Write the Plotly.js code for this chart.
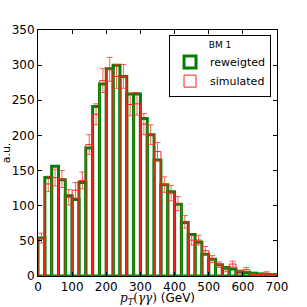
<!DOCTYPE html>
<html>
<head>
<meta charset="utf-8">
<script src="https://cdn.plot.ly/plotly-3.0.1.min.js"></script>
<style>html,body{margin:0;padding:0;background:#fff;}#chart{width:307px;height:307px;}</style>
</head>
<body>
<div id="chart"></div>
<script>
// bin centers (GeV), bin width 20
var binCenters = [10,30,50,70,90,110,130,150,170,190,210,230,250,270,290,310,330,350,370,390,410,430,450,470,490,510,530,550,570,590,610,630,650,670,690];
var reweighted = [54,140,156,137,114,109,133,182,241,273,295,300,284,259,259,224,201,165,130,120,102,76,59,48,31,24,16,12,10,6,5,4,3,2,2];
var simulated  = [54,131,140,138,112,122,136,187,230,278,294,284,284,244,245,216,201,177,130,118,103,77,51,51,36,24,16,9,17,6,9,2,2,4,1];
var simErr     = [7,11,12,12,11,11,12,14,15,17,17,17,17,16,16,15,14,13,11,11,10,9,7,7,6,5,4,3,4,2.5,3,1.5,1.5,2,1];
var binWidth = 20;

var widths = binCenters.map(function(){return binWidth;});

var traces = [
  {
    type: 'bar', name: 'reweigted', x: binCenters, y: reweighted, width: widths,
    marker: {color: 'rgba(255,255,255,0)', line: {color: '#008000', width: 3}},
    showlegend: true
  },
  {
    type: 'bar', name: 'simulated', x: binCenters, y: simulated, width: widths,
    marker: {color: 'rgba(255,255,255,0)', line: {color: '#ff2020', width: 1}},
    error_y: {type: 'data', array: simErr, visible: true, color: 'rgba(255,40,40,0.75)', thickness: 1, width: 3}
  }
];

var layout = {
  width: 307, height: 307,
  margin: {l: 38, r: 30, t: 30, b: 31},
  paper_bgcolor: '#fff', plot_bgcolor: '#fff',
  barmode: 'overlay', bargap: 0,
  font: {family: 'DejaVu Sans', size: 12, color: '#000'},
  xaxis: {
    range: [0, 700], dtick: 100, tick0: 0,
    ticks: 'inside', ticklen: 4, tickcolor: '#000',
    showline: true, linecolor: '#000', linewidth: 1, mirror: 'ticks',
    showgrid: false, zeroline: false,
    tickfont: {size: 12},
    title: {text: '<span style="font-family:DejaVu Serif"><i>p</i><sub><i>T</i></sub>(<i>γγ</i>)</span> (GeV)', font: {size: 12}, standoff: 5}
  },
  yaxis: {
    range: [0, 350], dtick: 50, tick0: 0,
    ticks: 'inside', ticklen: 4, tickcolor: '#000',
    showline: true, linecolor: '#000', linewidth: 1, mirror: 'ticks',
    showgrid: false, zeroline: false,
    tickfont: {size: 12},
    title: {text: 'a.u.', font: {size: 11}, standoff: 4}
  },
  legend: {
    x: 0.975, y: 0.98, xanchor: 'right', yanchor: 'top',
    bordercolor: '#000', borderwidth: 1, bgcolor: '#fff',
    font: {size: 11},
    title: {text: 'BM 1', side: 'top center', font: {size: 9}},
    tracegroupgap: 0
  }
};

Plotly.newPlot('chart', traces, layout, {staticPlot: true, displayModeBar: false});
</script>
</body>
</html>
